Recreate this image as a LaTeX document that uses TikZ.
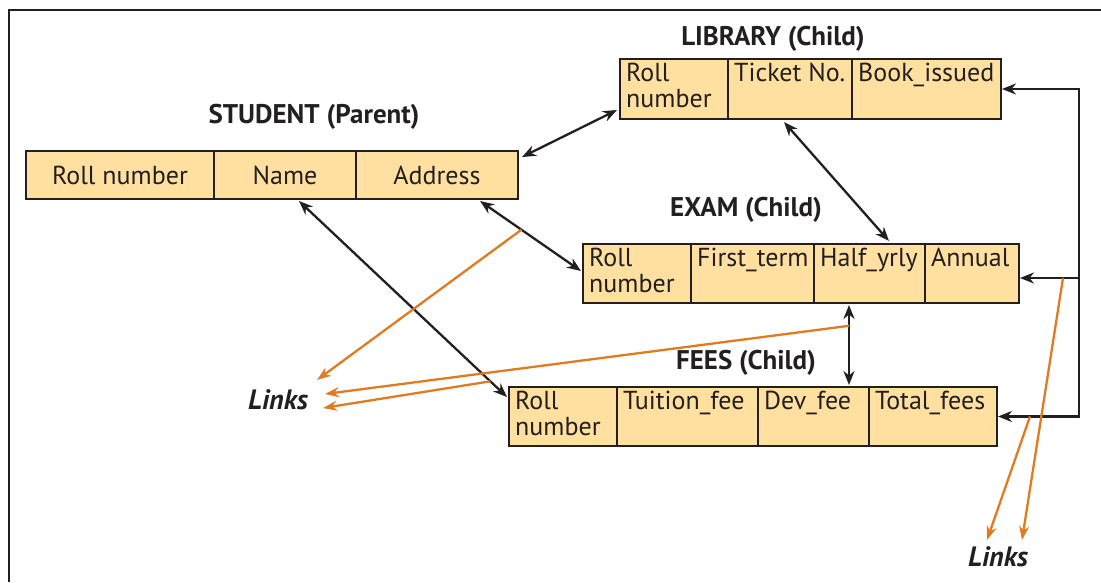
\documentclass[tikz,border=0pt]{standalone}
\usepackage{fontspec}
\setmainfont{PT Sans}
\usetikzlibrary{arrows.meta,calc}
\definecolor{ink}{HTML}{231F20}
\definecolor{cellfill}{HTML}{FFE0A0}
\definecolor{linkc}{HTML}{E07B22}
\begin{document}
\begin{tikzpicture}[x=1pt,y=-1pt,
  cell/.style={draw=ink, line width=2pt, fill=cellfill, anchor=north west, inner sep=0pt, text=ink, font=\fontsize{26}{27}\selectfont},
  ctext/.style={anchor=north west, inner xsep=7pt, inner ysep=4.5pt, align=left, font=\fontsize{26}{26.5}\selectfont, text=ink},
  ttl/.style={font=\bfseries\fontsize{27}{28}\selectfont, text=ink},
  lnk/.style={font=\bfseries\itshape\fontsize{28}{29}\selectfont, text=ink},
  blk/.style={draw=ink, line width=2.3pt, line join=miter},
  tipk/.tip={Stealth[length=14pt,width=11pt]},
  both/.style={blk, tipk-tipk},
  one/.style={blk, -tipk},
  org/.style={draw=linkc, line width=2.3pt, -{Stealth[length=14pt,width=10pt]}}
]
\useasboundingbox (0,0) rectangle (1101,582);
% frame
\draw[draw=ink, line width=2.5pt] (1101,10) -- (9,10) -- (9,582);

% titles
\node[ttl] (tlib) at (773,39) {LIBRARY (Child)};
\node[ttl] (tstu) at (314,117) {STUDENT (Parent)};
\node[ttl] (texa) at (746,210) {EXAM (Child)};
\node[ttl] (tfee) at (746,363) {FEES (Child)};

% STUDENT
\node[cell, minimum width=188pt, minimum height=48pt] (s1) at (25,150) {Roll number};
\node[cell, minimum width=142pt, minimum height=48pt] (s2) at (213,150) {Name};
\node[cell, minimum width=162pt, minimum height=48pt] (s3) at (355,150) {Address};

% LIBRARY
\node[cell, minimum width=108pt, minimum height=60pt] (l1) at (619,58) {};
\node[cell, minimum width=124pt, minimum height=60pt] (l2) at (727,58) {};
\node[cell, minimum width=149pt, minimum height=60pt] (l3) at (851,58) {};
\node[ctext] (l1t) at (l1.north west) {Roll\\number};
\node[ctext] (l2t) at (l2.north west) {Ticket No.};
\node[ctext] (l3t) at (l3.north west) {Book\_issued};

% EXAM
\node[cell, minimum width=108pt, minimum height=59pt] (e1) at (582,243) {};
\node[cell, minimum width=123pt, minimum height=59pt] (e2) at (690,243) {};
\node[cell, minimum width=111pt, minimum height=59pt] (e3) at (813,243) {};
\node[cell, minimum width=94pt, minimum height=59pt] (e4) at (924,243) {};
\node[ctext] (e1t) at (e1.north west) {Roll\\number};
\node[ctext] (e2t) at (e2.north west) {First\_term};
\node[ctext] (e3t) at (e3.north west) {Half\_yrly};
\node[ctext] (e4t) at (e4.north west) {Annual};

% FEES
\node[cell, minimum width=108pt, minimum height=59pt] (f1) at (508,386) {};
\node[cell, minimum width=141pt, minimum height=59pt] (f2) at (616,386) {};
\node[cell, minimum width=111pt, minimum height=59pt] (f3) at (757,386) {};
\node[cell, minimum width=128pt, minimum height=59pt] (f4) at (868,386) {};
\node[ctext] (f1t) at (f1.north west) {Roll\\number};
\node[ctext] (f2t) at (f2.north west) {Tuition\_fee};
\node[ctext] (f3t) at (f3.north west) {Dev\_fee};
\node[ctext] (f4t) at (f4.north west) {Total\_fees};

% Links labels
\node[lnk] (linksL) at (278,400) {Links};
\node[lnk] (linksB) at (998,557) {Links};

% black connectors
\coordinate (a1s) at ($(s3.north east)+(3,7)$);
\coordinate (a1e) at ($(l1.south west)+(-2,-10)$);
\coordinate (a2s) at ($(l2.south west)+(57,2)$);
\coordinate (a2e) at ($(e3.north west)+(76,-2)$);
\coordinate (a3s) at ($(s3.south west)+(125,1)$);
\coordinate (a3e) at ($(e1.north west)+(-1,28)$);
\coordinate (a4s) at ($(s2.south west)+(86,1)$);
\coordinate (a4e) at ($(f1.north west)+(-1,11)$);
\coordinate (a5s) at ($(e3.south west)+(36,1)$);
\coordinate (a5e) at ($(f3.north west)+(92,-1)$);
\draw[both] (a1s) -- (a1e);
\draw[both] (a2s) -- (a2e);
\draw[both] (a3s) -- (a3e);
\draw[both] (a4s) -- (a4e);
\draw[both] (a5s) -- (a5e);

% right bus
\coordinate (busL) at ($(l3.east)+(77,0)$);
\coordinate (busF) at (busL |- f4.east);
\coordinate (busE) at ($(busL)+(0,189)$);
\draw[both] (l3.east) -- (busL) -- (busF) -- (f4.east);
\draw[one] (busE) -- (busE -| e4.east);

% orange links
\draw[org] ($(a3s)!0.41!(a3e)$) -- ($(linksL)+(39,-20)$);
\draw[org] ($(a5s)!0.26!(a5e)$) -- ($(linksL)+(47,-6)$);
\draw[org] ($(a4s)!0.92!(a4e)$) -- ($(linksL)+(45,8)$);
\draw[org] ($(busE)+(-16,0)$) -- ($(linksB)+(24,-17)$);
\draw[org] ($(busF)+(-49,0)$) -- ($(linksB)+(-11,-17)$);
\end{tikzpicture}
\end{document}
